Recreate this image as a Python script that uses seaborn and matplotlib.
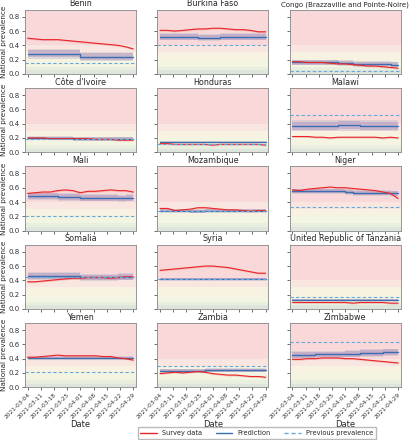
import numpy as np
import pandas as pd
import matplotlib
matplotlib.use("Agg")
import matplotlib.pyplot as plt
import matplotlib.dates as mdates
from matplotlib.lines import Line2D
import seaborn as sns

dates = pd.date_range("2021-03-04", "2021-04-29", freq="4D")

countries = ["Benin", "Burkina Faso", "Congo (Brazzaville and Pointe-Noire)",
             "Côte d'Ivoire", "Honduras", "Malawi",
             "Mali", "Mozambique", "Niger",
             "Somalia", "Syria", "United Republic of Tanzania",
             "Yemen", "Zambia", "Zimbabwe"]

survey = {
    "Benin": [0.50, 0.49, 0.48, 0.48, 0.48, 0.47, 0.46, 0.45, 0.44, 0.43, 0.42, 0.41, 0.40, 0.38, 0.35],
    "Burkina Faso": [0.61, 0.61, 0.60, 0.61, 0.62, 0.63, 0.63, 0.64, 0.64, 0.63, 0.62, 0.62, 0.61, 0.59, 0.59],
    "Congo (Brazzaville and Pointe-Noire)": [0.17, 0.17, 0.16, 0.16, 0.16, 0.15, 0.14, 0.14, 0.13, 0.12, 0.11, 0.11, 0.10, 0.09, 0.08],
    "Côte d'Ivoire": [0.20, 0.20, 0.20, 0.19, 0.19, 0.19, 0.19, 0.19, 0.19, 0.18, 0.18, 0.18, 0.17, 0.17, 0.17],
    "Honduras": [0.12, 0.12, 0.11, 0.11, 0.11, 0.11, 0.11, 0.10, 0.11, 0.11, 0.11, 0.11, 0.11, 0.11, 0.10],
    "Malawi": [0.22, 0.22, 0.22, 0.21, 0.21, 0.20, 0.21, 0.21, 0.21, 0.21, 0.21, 0.21, 0.20, 0.21, 0.20],
    "Mali": [0.52, 0.53, 0.54, 0.54, 0.56, 0.57, 0.56, 0.53, 0.55, 0.55, 0.56, 0.57, 0.56, 0.56, 0.54],
    "Mozambique": [0.31, 0.31, 0.28, 0.29, 0.30, 0.32, 0.32, 0.31, 0.30, 0.29, 0.29, 0.28, 0.27, 0.28, 0.28],
    "Niger": [0.57, 0.56, 0.58, 0.59, 0.60, 0.61, 0.60, 0.60, 0.59, 0.58, 0.57, 0.56, 0.54, 0.52, 0.45],
    "Somalia": [0.38, 0.38, 0.39, 0.40, 0.41, 0.42, 0.43, 0.43, 0.44, 0.44, 0.44, 0.43, 0.44, 0.45, 0.45],
    "Syria": [0.54, 0.55, 0.56, 0.57, 0.58, 0.59, 0.60, 0.60, 0.59, 0.58, 0.56, 0.54, 0.52, 0.50, 0.50],
    "United Republic of Tanzania": [0.09, 0.09, 0.09, 0.09, 0.09, 0.09, 0.09, 0.09, 0.08, 0.09, 0.09, 0.09, 0.09, 0.08, 0.08],
    "Yemen": [0.42, 0.42, 0.43, 0.44, 0.45, 0.44, 0.44, 0.44, 0.44, 0.44, 0.43, 0.43, 0.41, 0.40, 0.38],
    "Zambia": [0.19, 0.20, 0.21, 0.20, 0.21, 0.22, 0.21, 0.19, 0.18, 0.17, 0.17, 0.16, 0.15, 0.15, 0.14],
    "Zimbabwe": [0.39, 0.39, 0.40, 0.40, 0.41, 0.41, 0.41, 0.40, 0.40, 0.39, 0.38, 0.37, 0.36, 0.35, 0.34],
}

prediction = {
    "Benin": [0.28, 0.28, 0.28, 0.28, 0.28, 0.28, 0.28, 0.24, 0.24, 0.24, 0.24, 0.24, 0.24, 0.24, 0.24],
    "Burkina Faso": [0.52, 0.52, 0.52, 0.52, 0.52, 0.51, 0.51, 0.51, 0.52, 0.52, 0.52, 0.52, 0.52, 0.52, 0.52],
    "Congo (Brazzaville and Pointe-Noire)": [0.16, 0.16, 0.16, 0.16, 0.16, 0.16, 0.15, 0.15, 0.14, 0.14, 0.14, 0.14, 0.14, 0.13, 0.13],
    "Côte d'Ivoire": [0.20, 0.20, 0.20, 0.20, 0.20, 0.20, 0.19, 0.19, 0.19, 0.19, 0.19, 0.19, 0.19, 0.19, 0.19],
    "Honduras": [0.14, 0.14, 0.14, 0.14, 0.14, 0.14, 0.14, 0.14, 0.14, 0.14, 0.14, 0.14, 0.14, 0.14, 0.14],
    "Malawi": [0.37, 0.37, 0.37, 0.37, 0.37, 0.37, 0.38, 0.38, 0.38, 0.37, 0.37, 0.37, 0.37, 0.37, 0.37],
    "Mali": [0.48, 0.48, 0.48, 0.48, 0.47, 0.47, 0.47, 0.46, 0.46, 0.46, 0.46, 0.46, 0.45, 0.46, 0.46],
    "Mozambique": [0.28, 0.28, 0.28, 0.28, 0.27, 0.27, 0.28, 0.28, 0.28, 0.28, 0.28, 0.28, 0.28, 0.28, 0.28],
    "Niger": [0.55, 0.55, 0.55, 0.55, 0.55, 0.55, 0.55, 0.54, 0.53, 0.53, 0.53, 0.53, 0.53, 0.52, 0.52],
    "Somalia": [0.46, 0.46, 0.46, 0.46, 0.46, 0.46, 0.46, 0.44, 0.44, 0.44, 0.44, 0.44, 0.45, 0.45, 0.45],
    "Syria": [0.42, 0.42, 0.42, 0.42, 0.42, 0.42, 0.42, 0.42, 0.42, 0.42, 0.42, 0.42, 0.42, 0.42, 0.42],
    "United Republic of Tanzania": [0.13, 0.13, 0.13, 0.13, 0.13, 0.13, 0.13, 0.13, 0.13, 0.13, 0.13, 0.13, 0.13, 0.13, 0.13],
    "Yemen": [0.41, 0.41, 0.41, 0.41, 0.41, 0.41, 0.41, 0.41, 0.41, 0.41, 0.41, 0.41, 0.41, 0.41, 0.41],
    "Zambia": [0.23, 0.23, 0.23, 0.23, 0.23, 0.23, 0.24, 0.24, 0.24, 0.24, 0.24, 0.24, 0.24, 0.24, 0.24],
    "Zimbabwe": [0.45, 0.45, 0.45, 0.46, 0.46, 0.46, 0.46, 0.47, 0.47, 0.48, 0.48, 0.48, 0.49, 0.49, 0.49],
}

band_width = {
    "Benin": 0.05, "Burkina Faso": 0.04, "Congo (Brazzaville and Pointe-Noire)": 0.03,
    "Côte d'Ivoire": 0.02, "Honduras": 0.01, "Malawi": 0.06,
    "Mali": 0.04, "Mozambique": 0.02, "Niger": 0.03,
    "Somalia": 0.04, "Syria": 0.01, "United Republic of Tanzania": 0.01,
    "Yemen": 0.02, "Zambia": 0.02, "Zimbabwe": 0.04,
}

previous = {
    "Benin": 0.15, "Burkina Faso": 0.41, "Congo (Brazzaville and Pointe-Noire)": 0.035,
    "Côte d'Ivoire": 0.18, "Honduras": 0.12, "Malawi": 0.52,
    "Mali": 0.20, "Mozambique": 0.28, "Niger": 0.33,
    "Somalia": 0.45, "Syria": 0.42, "United Republic of Tanzania": 0.17,
    "Yemen": 0.22, "Zambia": 0.30, "Zimbabwe": 0.64,
}

band_edges = [0.0, 0.05, 0.1, 0.2, 0.3, 0.4, 0.9]
band_colors = ["#dde5dd", "#e9efdf", "#f4f4e2", "#f7f2e1", "#f9e6e0", "#f8d8d9"]

date_ticks = pd.date_range("2021-03-04", "2021-04-29", freq="7D")

sns.set_style("ticks")
plt.rcParams['font.family'] = ['DejaVu Sans']

fig, axes = plt.subplots(5, 3, figsize=(4.12, 4.4), dpi=100, sharex=True, sharey=True)
fig.subplots_adjust(left=0.06, right=0.973, top=0.978, bottom=0.12, wspace=0.19, hspace=0.22)

RED = "#e8262a"
BLUE = "#3d6db0"
DASH = "#69a9d9"

for ax, c in zip(axes.flat, countries):
    for lo, hi, col in zip(band_edges[:-1], band_edges[1:], band_colors):
        ax.axhspan(lo, hi, color=col, lw=0, zorder=0)
    df = pd.DataFrame({"date": dates, "survey": survey[c], "pred": prediction[c]})
    pred = np.array(prediction[c])
    w = band_width[c]
    ax.fill_between(dates, pred - w * 1.3, pred + w * 1.3, color="#c4bfcc", alpha=0.5, lw=0, zorder=1, step="post")
    ax.fill_between(dates, pred - w, pred + w, color="#9a78b4", alpha=0.35, lw=0, zorder=1, step="post")
    sv = np.array(survey[c])
    ax.fill_between(dates, sv - 0.012, sv + 0.012, color="#f08080", alpha=0.4, lw=0, zorder=2)
    sns.lineplot(data=df, x="date", y="pred", ax=ax, color=BLUE, lw=1.0, zorder=3, drawstyle="steps-post")
    sns.lineplot(data=df, x="date", y="survey", ax=ax, color=RED, lw=0.8, zorder=4)
    ax.axhline(previous[c], color=DASH, lw=0.8, ls=(0, (3, 2)), zorder=5)
    ax.set_title(c, fontsize=5.0 if len(c) > 30 else 5.8, pad=2.5)
    ax.set_ylim(0, 0.9)
    ax.set_xlim(dates[0] - pd.Timedelta(days=1.5), dates[-1] + pd.Timedelta(days=1.5))
    ax.set_ylabel("")
    ax.set_xlabel("")
    for s in ax.spines.values():
        s.set_color("#888888")
        s.set_linewidth(0.6)
    ax.tick_params(labelsize=5, length=2, width=0.5, pad=1.5, colors="#333333")

for ax in axes[:, 0]:
    ax.set_ylabel("National prevalence", fontsize=5.2, labelpad=1.5)
    ax.set_yticks([0.0, 0.2, 0.4, 0.6, 0.8])
    ax.set_yticklabels(["0.0", "0.2", "0.4", "0.6", "0.8"])

for ax in axes[-1, :]:
    ax.set_xticks(date_ticks)
    ax.xaxis.set_major_formatter(mdates.DateFormatter("%Y-%m-%d"))
    ax.tick_params(axis="x", labelsize=4.2)
    for lab in ax.get_xticklabels():
        lab.set_rotation(45)
        lab.set_ha("right")
        lab.set_rotation_mode("anchor")
    ax.set_xlabel("Date", fontsize=6, labelpad=0.5)

handles = [Line2D([], [], color=RED, lw=1.0),
           Line2D([], [], color=BLUE, lw=1.0),
           Line2D([], [], color=DASH, lw=1.0, ls=(0, (3, 2)))]
fig.legend(handles, ["Survey data", "Prediction", "Previous prevalence"],
           loc="center", bbox_to_anchor=(257 / 412, 1 - 433 / 440), ncol=3,
           fontsize=4.8, frameon=True, handlelength=2.5, columnspacing=2.0,
           borderpad=0.4, fancybox=False, edgecolor="#aaaaaa")

fig.savefig("out.png", dpi=100)
